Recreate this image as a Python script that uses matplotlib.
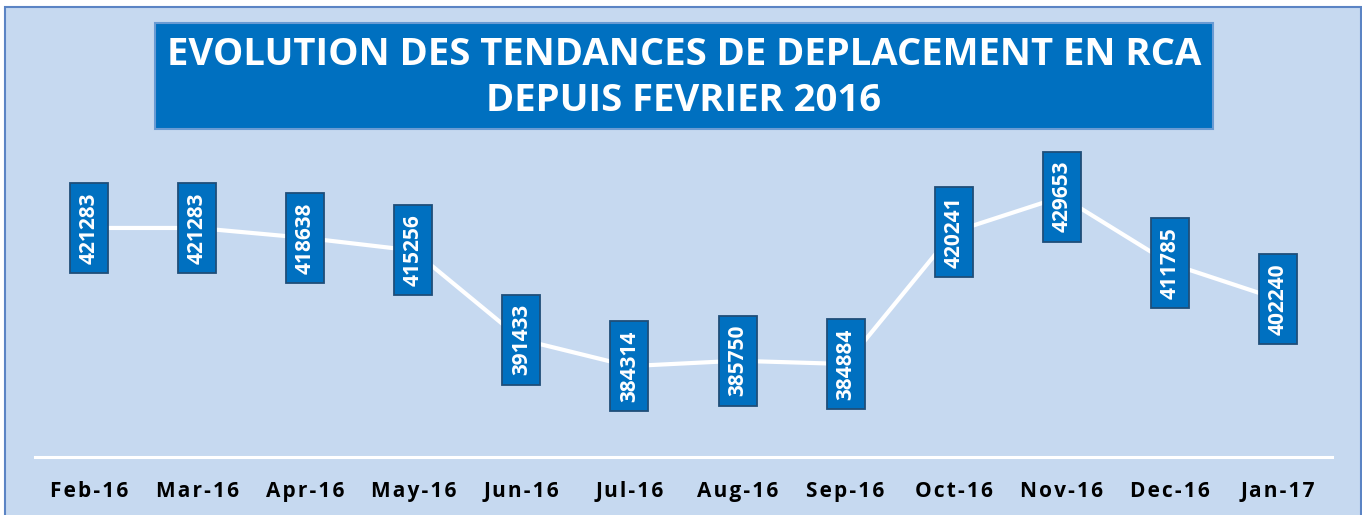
import numpy as np
import matplotlib.pyplot as plt
from matplotlib.patches import Rectangle
from matplotlib.transforms import ScaledTranslation

months = ["Feb-16", "Mar-16", "Apr-16", "May-16", "Jun-16", "Jul-16",
          "Aug-16", "Sep-16", "Oct-16", "Nov-16", "Dec-16", "Jan-17"]
deplaces = [421283, 421283, 418638, 415256, 391433, 384314,
            385750, 384884, 420241, 429653, 411785, 402240]
title_lines = ["EVOLUTION DES TENDANCES DE DEPLACEMENT EN RCA",
               "DEPUIS FEVRIER 2016"]

W, H = 1362, 515
bg = "#C6D9F0"
box_blue = "#0070C0"
fonts = ["Open Sans", "DejaVu Sans"]


def spaced(s, gap="\u200a"):
    return gap.join(s)


fig = plt.figure(figsize=(W / 100, H / 100), dpi=100)
fig.patch.set_facecolor("white")

# outer frame
fig.patches.append(Rectangle((5 / W, -0.05), 1356 / W, (H - 7) / H + 0.05,
                             transform=fig.transFigure, facecolor=bg,
                             edgecolor="#5B84C4", lw=1.5, zorder=0))

ax = fig.add_axes([35 / W, 58 / H, 1297 / W, 299 / H])
ax.set_zorder(3)
ax.set_facecolor("none")
x = np.arange(len(months))
ax.plot(x, deplaces, color="white", lw=3, solid_capstyle="round", zorder=2)

# value labels in fixed-size boxes (size in inches, centred on the point)
bw, bh = 0.38, 0.90
for xi, v in zip(x, deplaces):
    tr = fig.dpi_scale_trans + ScaledTranslation(xi, v, ax.transData)
    ax.add_patch(Rectangle((-bw / 2, -bh / 2), bw, bh, transform=tr,
                           fc=box_blue, ec="#1F4E79", lw=1.3, zorder=3,
                           clip_on=False))
    ax.text(xi, v, str(v), rotation=90, ha="center", va="center",
            rotation_mode="anchor", color="white", fontsize=15,
            fontweight="bold", family=fonts, zorder=4)

ax.set_xlim(-0.5, len(months) - 0.5)
ax.set_ylim(360000, 440000)
ax.set_xticks(x)
ax.set_xticklabels([spaced(m) for m in months], fontsize=15,
                   fontweight="bold", family=fonts)
ax.tick_params(axis="x", length=0, pad=17)
ax.set_yticks([])
for s in ["top", "left", "right"]:
    ax.spines[s].set_visible(False)
ax.spines["bottom"].set_color("white")
ax.spines["bottom"].set_linewidth(2.2)

# title box
fig.patches.append(Rectangle((155 / W, 1 - 129 / H), 1058 / W, 106 / H,
                             transform=fig.transFigure, facecolor=box_blue,
                             edgecolor="#6A9BD3", lw=1.5, zorder=1))
fig.text(684 / W, 1 - 55 / H, title_lines[0], ha="center", va="center",
         color="white", fontsize=27.5, fontweight="bold", family=fonts)
fig.text(684 / W, 1 - 101 / H, title_lines[1], ha="center", va="center",
         color="white", fontsize=27.5, fontweight="bold", family=fonts)

fig.savefig("out.png", dpi=100)
